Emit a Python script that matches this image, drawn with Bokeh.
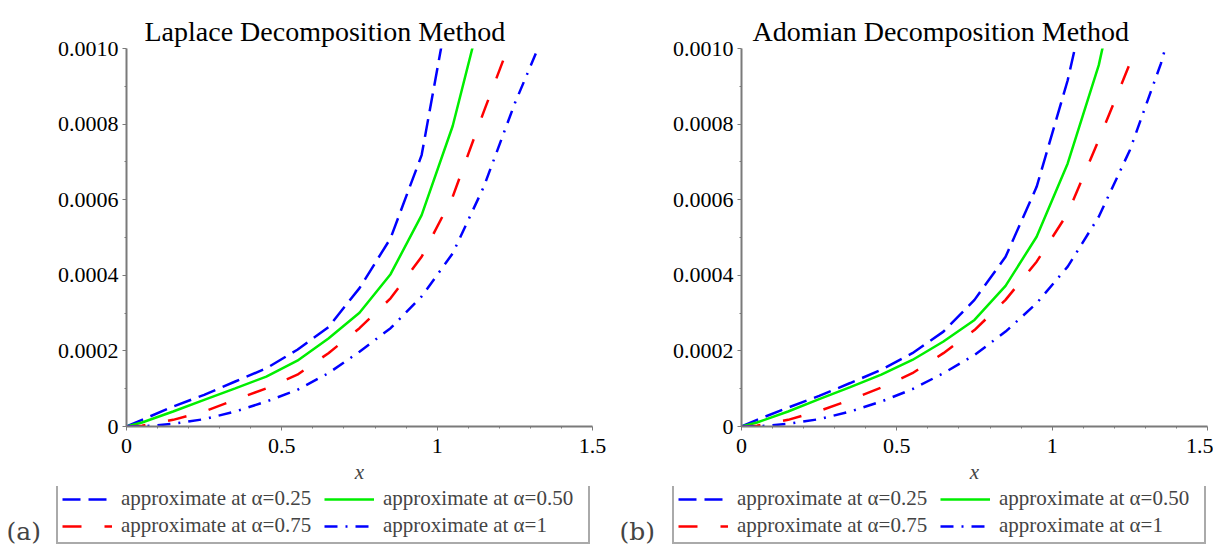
from bokeh.plotting import figure
from bokeh.models import Legend, LegendItem, Label, FixedTicker, Range1d
from bokeh.layouts import row, column
from bokeh.embed import file_html
from bokeh.resources import INLINE

# ---- data ----
x_pts = [0, 0.05, 0.15, 0.25, 0.35, 0.45, 0.55, 0.65, 0.75, 0.85, 0.95, 1.05, 1.15, 1.25, 1.35, 1.45]

# (a) Laplace Decomposition Method
ldm_a025 = [0, 1.76e-5, 5.29e-5, 8.37e-5, 1.19e-4, 1.54e-4, 2.03e-4, 2.63e-4, 3.66e-4, 4.98e-4, 7.18e-4, 1.17e-3]
ldm_a050 = [0, 1.06e-5, 3.96e-5, 7.05e-5, 1.01e-4, 1.32e-4, 1.74e-4, 2.33e-4, 3.01e-4, 4.03e-4, 5.59e-4, 7.95e-4, 1.12e-3]
ldm_a075 = [0, 2.0e-6, 1.76e-5, 3.96e-5, 7.05e-5, 1.01e-4, 1.37e-4, 1.94e-4, 2.60e-4, 3.39e-4, 4.49e-4, 6.08e-4, 8.33e-4, 1.05e-3]
ldm_a100 = [0, 0, 7.0e-6, 1.94e-5, 3.96e-5, 6.6e-5, 9.69e-5, 1.41e-4, 1.98e-4, 2.60e-4, 3.44e-4, 4.58e-4, 6.34e-4, 8.55e-4, 1.05e-3]

# (b) Adomian Decomposition Method
adm_a025 = [0, 1.76e-5, 5.0e-5, 8.1e-5, 1.15e-4, 1.50e-4, 1.94e-4, 2.51e-4, 3.35e-4, 4.49e-4, 6.34e-4, 9.16e-4, 1.28e-3]
adm_a050 = [0, 1.06e-5, 3.96e-5, 7.22e-5, 1.04e-4, 1.37e-4, 1.76e-4, 2.25e-4, 2.82e-4, 3.72e-4, 5.02e-4, 6.96e-4, 9.56e-4, 1.33e-3]
adm_a075 = [0, 2.0e-6, 1.76e-5, 4.1e-5, 7.05e-5, 1.03e-4, 1.41e-4, 1.94e-4, 2.55e-4, 3.35e-4, 4.36e-4, 5.64e-4, 7.58e-4, 9.6e-4, 1.25e-3]
adm_a100 = [0, 0, 7.0e-6, 1.94e-5, 3.96e-5, 6.6e-5, 9.87e-5, 1.41e-4, 1.89e-4, 2.51e-4, 3.26e-4, 4.23e-4, 5.55e-4, 7.31e-4, 9.6e-4, 1.25e-3]

legend_labels = ["approximate at \u03b1=0.25", "approximate at \u03b1=0.50",
                 "approximate at \u03b1=0.75", "approximate at \u03b1=1"]
x_ticks = [0, 0.5, 1, 1.5]
x_tick_labels = ["0", "0.5", "1", "1.5"]
x_minor = [0.1, 0.2, 0.3, 0.4, 0.6, 0.7, 0.8, 0.9, 1.1, 1.2, 1.3, 1.4]
y_ticks = [0, 0.0002, 0.0004, 0.0006, 0.0008, 0.0010]
y_tick_labels = ["0", "0.0002", "0.0004", "0.0006", "0.0008", "0.0010"]
y_minor = [0.0001, 0.0003, 0.0005, 0.0007, 0.0009]

SERIF = "Liberation Serif"
AXIS_GRAY = "#7a7a7a"
STYLES = [dict(line_color="#0000ff", line_width=2.5, line_dash="18 8"),
          dict(line_color="#00ee00", line_width=2.5),
          dict(line_color="#ff0000", line_width=2.5, line_dash="19 23"),
          dict(line_color="#0000ff", line_width=2.5, line_dash="13 8 2 8")]

LEGEND_H = 60


def make_panel(title, series, left_border, right_border, title_offset):
    p = figure(frame_width=466, frame_height=378,
               min_border_left=left_border, min_border_right=right_border,
               min_border_top=48, min_border_bottom=540 - LEGEND_H - 48 - 378,
               x_range=Range1d(0, 1.5), y_range=Range1d(0, 0.001),
               output_backend="svg", toolbar_location=None)
    p.outline_line_color = None
    p.grid.visible = False

    p.title.text = title
    p.title.text_font = SERIF
    p.title.text_font_size = "28px"
    p.title.text_font_style = "normal"
    p.title.text_color = "black"
    p.title.align = "left"
    p.title.vertical_align = "top"
    p.title.offset = title_offset
    p.title.standoff = 0

    for ax, ticks, labels, minor in ((p.xaxis[0], x_ticks, x_tick_labels, x_minor),
                                     (p.yaxis[0], y_ticks, y_tick_labels, y_minor)):
        ax.ticker = FixedTicker(ticks=ticks, minor_ticks=minor)
        ax.major_label_overrides = {t: l for t, l in zip(ticks, labels)}
        ax.major_label_text_font = SERIF
        ax.major_label_text_font_size = "22px"
        ax.major_label_text_color = "black"
        ax.axis_line_color = AXIS_GRAY
        ax.axis_line_width = 2
        ax.major_tick_line_color = AXIS_GRAY
        ax.minor_tick_line_color = AXIS_GRAY
        ax.major_tick_in = 0
        ax.major_tick_out = 4
        ax.minor_tick_in = 0
        ax.minor_tick_out = 2
    p.yaxis.major_label_standoff = 4
    p.xaxis.major_label_standoff = 8
    p.xaxis.axis_label = "x"
    p.xaxis.axis_label_text_font = SERIF
    p.xaxis.axis_label_text_font_style = "italic"
    p.xaxis.axis_label_text_font_size = "21px"
    p.xaxis.axis_label_standoff = 4

    for ys, st in zip(series, STYLES):
        p.line(x_pts[:len(ys)], ys, **st)
    return p


def make_legend_strip(tag, series, width, legend_x):
    # the same series are drawn here outside the visible y range,
    # only so that the legend can show their line styles
    q = figure(width=width, height=LEGEND_H, min_border=0,
               x_axis_type=None, y_axis_type=None,
               x_range=Range1d(0, 1.5), y_range=Range1d(-2, -1),
               output_backend="svg", toolbar_location=None)
    q.outline_line_color = None
    q.grid.visible = False
    renderers = [q.line(x_pts[:len(ys)], ys, **st) for ys, st in zip(series, STYLES)]
    items = [LegendItem(label=lab, renderers=[r]) for lab, r in zip(legend_labels, renderers)]
    leg = Legend(items=items, orientation="horizontal", ncols=2, location=(legend_x, 2))
    leg.label_text_font = SERIF
    leg.label_text_font_size = "21px"
    leg.glyph_width = 50
    leg.glyph_height = 20
    leg.label_height = 20
    leg.label_width = 201
    leg.label_standoff = 9
    leg.spacing = 2
    leg.padding = 4
    leg.margin = 0
    leg.border_line_color = "#555555"
    leg.border_line_width = 2
    leg.background_fill_color = "white"
    leg.background_fill_alpha = 1
    q.add_layout(leg, "center")
    q.add_layout(Label(x=6, y=1, x_units="screen", y_units="screen",
                       text=tag, text_font="DejaVu Serif", text_font_size="25px",
                       text_baseline="bottom", text_align="left"))
    return q


p1 = make_panel("Laplace Decomposition Method",
                (ldm_a025, ldm_a050, ldm_a075, ldm_a100), 126, 21, 18)
p2 = make_panel("Adomian Decomposition Method",
                (adm_a025, adm_a050, adm_a075, adm_a100), 128, 6, 11)
l1 = make_legend_strip("(a)", (ldm_a025, ldm_a050, ldm_a075, ldm_a100), 613, 56)
l2 = make_legend_strip("(b)", (adm_a025, adm_a050, adm_a075, adm_a100), 600, 59)

layout = column(row(p1, p2), row(l1, l2))
open("out.html", "w").write(file_html(layout, INLINE))
